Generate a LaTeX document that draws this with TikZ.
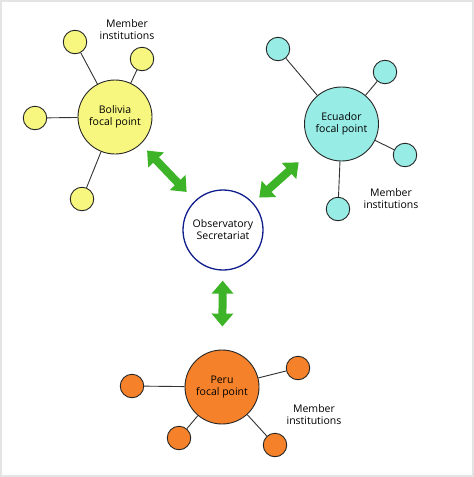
\documentclass[tikz,border=0pt]{standalone}
\usepackage{fontspec}
\setmainfont{Open Sans}
\usetikzlibrary{arrows.meta}
\definecolor{boly}{RGB}{247,247,128}
\definecolor{ecuc}{RGB}{152,236,230}
\definecolor{peruo}{RGB}{245,130,42}
\definecolor{arrg}{RGB}{61,180,39}
\definecolor{obsb}{RGB}{16,30,140}
\definecolor{framegray}{RGB}{228,228,228}
\tikzset{
  bigc/.style={circle, draw=black!85, line width=0.9pt, minimum size=74pt, inner sep=0pt, align=center, font=\fontsize{10.5}{12}\selectfont},
  smallc/.style={circle, draw=black!85, line width=0.9pt, minimum size=23.5pt, inner sep=0pt},
  link/.style={draw=black!80, line width=0.9pt},
  lbl/.style={align=center, font=\fontsize{10.5}{12}\selectfont},
  bigarrow/.style={draw=arrg, line width=8pt, {Triangle[length=13pt,width=21pt]}-{Triangle[length=13pt,width=21pt]}}
}
\begin{document}
\begin{tikzpicture}[x=1pt,y=-1pt]
\useasboundingbox (0,0) rectangle (474,477);
\draw[framegray, line width=2pt] (1,1) rectangle (473,476);
% Bolivia
\node[bigc, fill=boly] (bol) at (115,117) {Bolivia\\focal point};
\node[smallc, fill=boly] (b1) at (75,42) {};
\node[smallc, fill=boly] (b2) at (142,59) {};
\node[smallc, fill=boly] (b3) at (35,118) {};
\node[smallc, fill=boly] (b4) at (82,199) {};
\foreach \s in {b1,b2,b3,b4} \draw[link] (bol) -- (\s);
\node[lbl] (bt) at (127,30) {Member\\institutions};
% Ecuador
\node[bigc, fill=ecuc] (ecu) at (341.5,124) {Ecuador\\focal point};
\node[smallc, fill=ecuc] (e1) at (278,49) {};
\node[smallc, fill=ecuc] (e2) at (385,72) {};
\node[smallc, fill=ecuc] (e3) at (405,155) {};
\node[smallc, fill=ecuc] (e4) at (338,209) {};
\foreach \s in {e1,e2,e3,e4} \draw[link] (ecu) -- (\s);
\node[lbl] (et) at (391,199) {Member\\institutions};
% Observatory
\node[bigc, draw=obsb, fill=white, minimum size=80pt, line width=1.3pt] (obs) at (223,230) {Observatory\\Secretariat};
% Peru
\node[bigc, fill=peruo] (per) at (222,387) {Peru\\focal point};
\node[smallc, fill=peruo] (p1) at (132,386) {};
\node[smallc, fill=peruo] (p2) at (298,368) {};
\node[smallc, fill=peruo] (p3) at (179,438) {};
\node[smallc, fill=peruo] (p4) at (275,445) {};
\foreach \s in {p1,p2,p3,p4} \draw[link] (per) -- (\s);
\node[lbl] (pt) at (314,415) {Member\\institutions};
% Arrows
\draw[bigarrow, shorten <=9pt, shorten >=12pt] (bol) -- (obs);
\draw[bigarrow, shorten <=8pt, shorten >=20pt] (obs) -- (ecu);
\draw[bigarrow, shorten <=10pt, shorten >=23pt] (obs) -- (per);
\end{tikzpicture}
\end{document}
